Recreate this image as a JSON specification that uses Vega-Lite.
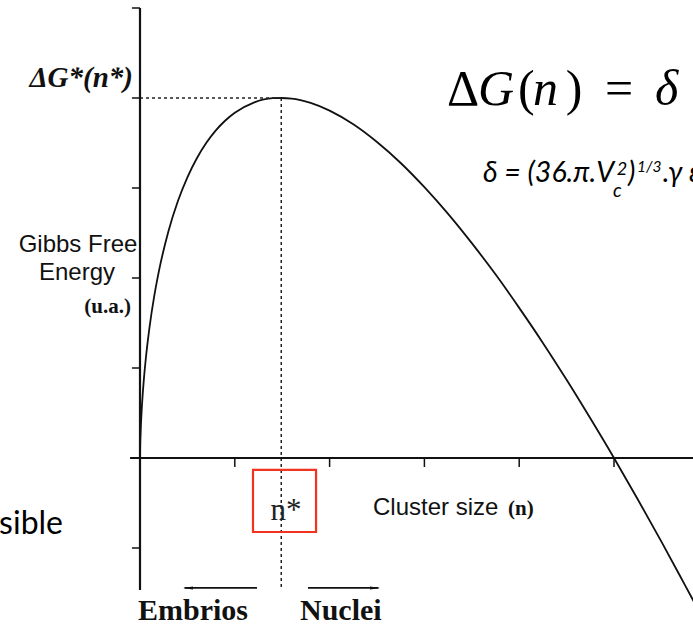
{
  "$schema": "https://vega.github.io/schema/vega-lite/v6.json",
  "width": 553,
  "height": 582,
  "autosize": "none",
  "padding": {"left": 140, "top": 8, "right": 0, "bottom": 46},
  "background": "white",
  "config": {"view": {"stroke": null}, "axis": {"disable": true}},
  "data": {
    "values": [
      {"n": 0, "g": 0}, {"n": 0.002, "g": 0.136}, {"n": 0.005, "g": 0.243},
      {"n": 0.01, "g": 0.375}, {"n": 0.02, "g": 0.573}, {"n": 0.03, "g": 0.73},
      {"n": 0.04, "g": 0.865}, {"n": 0.06, "g": 1.092}, {"n": 0.08, "g": 1.283},
      {"n": 0.1, "g": 1.45}, {"n": 0.15, "g": 1.798}, {"n": 0.2, "g": 2.079},
      {"n": 0.3, "g": 2.519}, {"n": 0.4, "g": 2.855}, {"n": 0.5, "g": 3.119},
      {"n": 0.6, "g": 3.331}, {"n": 0.7, "g": 3.502}, {"n": 0.8, "g": 3.64},
      {"n": 0.9, "g": 3.75}, {"n": 1.0, "g": 3.836}, {"n": 1.2, "g": 3.949},
      {"n": 1.4, "g": 3.998}, {"n": 1.49, "g": 4.0}, {"n": 1.6, "g": 3.994},
      {"n": 1.8, "g": 3.946}, {"n": 2.0, "g": 3.86}, {"n": 2.25, "g": 3.708},
      {"n": 2.5, "g": 3.511}, {"n": 2.75, "g": 3.278}, {"n": 3.0, "g": 3.009},
      {"n": 3.25, "g": 2.712}, {"n": 3.5, "g": 2.387}, {"n": 3.75, "g": 2.041},
      {"n": 4.0, "g": 1.668}, {"n": 4.25, "g": 1.279}, {"n": 4.5, "g": 0.869},
      {"n": 4.75, "g": 0.441}, {"n": 5.0, "g": 0.0}, {"n": 5.25, "g": -0.458},
      {"n": 5.5, "g": -0.929}, {"n": 5.75, "g": -1.415}, {"n": 5.9, "g": -1.708}
    ]
  },
  "layer": [
    {
      "mark": {"type": "line", "color": "#111111", "strokeWidth": 1.8, "interpolate": "monotone"},
      "encoding": {
        "x": {"field": "n", "type": "quantitative", "scale": {"domain": [0, 5.8333], "nice": false, "zero": false}, "axis": null},
        "y": {"field": "g", "type": "quantitative", "scale": {"domain": [-1.4667, 5], "nice": false, "zero": false}, "axis": null}
      }
    },
    {
      "data": {"values": [{}]},
      "mark": {"type": "rule", "color": "#222222", "strokeWidth": 1.5, "strokeDash": [3, 3]},
      "encoding": {"x": {"datum": 0}, "x2": {"datum": 1.49}, "y": {"datum": 4}}
    },
    {
      "data": {"values": [{}]},
      "mark": {"type": "rule", "color": "#222222", "strokeWidth": 1.5, "strokeDash": [3, 3]},
      "encoding": {"x": {"datum": 1.49}, "y": {"datum": 4}, "y2": {"datum": -1.4667}}
    },
    {
      "data": {"values": [{}]},
      "mark": {"type": "rule", "color": "#111111", "strokeWidth": 2.2},
      "encoding": {"x": {"datum": 0}, "y": {"datum": -1.4667}, "y2": {"datum": 5}}
    },
    {
      "data": {"values": [{"v": -1}, {"v": 0}, {"v": 1}, {"v": 2}, {"v": 3}, {"v": 4}, {"v": 5}]},
      "mark": {"type": "rule", "color": "#111111", "strokeWidth": 1.5},
      "encoding": {"x": {"datum": -0.085}, "x2": {"datum": 0}, "y": {"field": "v", "type": "quantitative"}}
    },
    {
      "data": {"values": [{}]},
      "mark": {"type": "rule", "color": "#111111", "strokeWidth": 2},
      "encoding": {"x": {"datum": -0.105}, "x2": {"datum": 6.2}, "y": {"datum": 0}}
    },
    {
      "data": {"values": [{"t": 1}, {"t": 2}, {"t": 3}, {"t": 4}, {"t": 5}]},
      "mark": {"type": "rule", "color": "#111111", "strokeWidth": 1.5},
      "encoding": {"x": {"field": "t", "type": "quantitative"}, "y": {"datum": 0}, "y2": {"datum": -0.1}}
    },
    {
      "data": {"values": [{}]},
      "mark": {"type": "rect", "filled": false, "stroke": "#f0341e", "strokeWidth": 2.2},
      "encoding": {"x": {"datum": 1.192}, "x2": {"datum": 1.857}, "y": {"datum": -0.133}, "y2": {"datum": -0.822}}
    },
    {
      "data": {"values": [{}]},
      "mark": {"type": "rule", "color": "#111111", "strokeWidth": 1.8},
      "encoding": {"x": {"datum": 0.47}, "x2": {"datum": 1.234}, "y": {"datum": -1.444}}
    },
    {
      "data": {"values": [{}]},
      "mark": {"type": "point", "filled": true, "color": "#111111", "opacity": 1, "size": 100, "shape": "M-1,0L1,-0.3L1,0.3Z"},
      "encoding": {"x": {"datum": 0.506}, "y": {"datum": -1.444}}
    },
    {
      "data": {"values": [{}]},
      "mark": {"type": "rule", "color": "#111111", "strokeWidth": 1.8},
      "encoding": {"x": {"datum": 1.772}, "x2": {"datum": 2.515}, "y": {"datum": -1.444}}
    },
    {
      "data": {"values": [{}]},
      "mark": {"type": "point", "filled": true, "color": "#111111", "opacity": 1, "size": 100, "shape": "M1,0L-1,-0.3L-1,0.3Z"},
      "encoding": {"x": {"datum": 2.479}, "y": {"datum": -1.444}}
    },
    {
      "data": {"values": [{}]},
      "mark": {"type": "text", "text": "ΔG*(n*)", "font": "Liberation Serif", "fontSize": 29, "fontWeight": "bold", "fontStyle": "italic", "align": "right", "baseline": "alphabetic", "color": "#111111"},
      "encoding": {"x": {"datum": -0.074}, "y": {"datum": 4.122}}
    },
    {
      "data": {"values": [{}]},
      "mark": {"type": "text", "text": "Gibbs Free", "font": "Liberation Sans", "fontSize": 24, "align": "center", "baseline": "alphabetic", "color": "#111111"},
      "encoding": {"x": {"datum": -0.654}, "y": {"datum": 2.289}}
    },
    {
      "data": {"values": [{}]},
      "mark": {"type": "text", "text": "Energy", "font": "Liberation Sans", "fontSize": 24, "align": "center", "baseline": "alphabetic", "color": "#111111"},
      "encoding": {"x": {"datum": -0.665}, "y": {"datum": 1.978}}
    },
    {
      "data": {"values": [{}]},
      "mark": {"type": "text", "text": "(u.a.)", "font": "Liberation Serif", "fontSize": 21, "fontWeight": "bold", "align": "right", "baseline": "alphabetic", "color": "#111111"},
      "encoding": {"x": {"datum": -0.095}, "y": {"datum": 1.611}}
    },
    {
      "data": {"values": [{}]},
      "mark": {"type": "text", "text": "Δ", "font": "Liberation Serif", "fontSize": 50, "align": "left", "baseline": "alphabetic", "color": "#000000"},
      "encoding": {"x": {"datum": 3.238}, "y": {"datum": 3.922}}
    },
    {
      "data": {"values": [{}]},
      "mark": {"type": "text", "text": "G", "font": "Liberation Serif", "fontSize": 50, "fontStyle": "italic", "align": "left", "baseline": "alphabetic", "color": "#000000"},
      "encoding": {"x": {"datum": 3.565}, "y": {"datum": 3.922}}
    },
    {
      "data": {"values": [{}]},
      "mark": {"type": "text", "text": "(", "font": "Liberation Serif", "fontSize": 50, "align": "left", "baseline": "alphabetic", "color": "#000000"},
      "encoding": {"x": {"datum": 3.987}, "y": {"datum": 3.922}}
    },
    {
      "data": {"values": [{}]},
      "mark": {"type": "text", "text": "n", "font": "Liberation Serif", "fontSize": 50, "fontStyle": "italic", "align": "left", "baseline": "alphabetic", "color": "#000000"},
      "encoding": {"x": {"datum": 4.146}, "y": {"datum": 3.922}}
    },
    {
      "data": {"values": [{}]},
      "mark": {"type": "text", "text": ")", "font": "Liberation Serif", "fontSize": 50, "align": "left", "baseline": "alphabetic", "color": "#000000"},
      "encoding": {"x": {"datum": 4.49}, "y": {"datum": 3.922}}
    },
    {
      "data": {"values": [{}]},
      "mark": {"type": "text", "text": "=", "font": "Liberation Serif", "fontSize": 50, "align": "left", "baseline": "alphabetic", "color": "#000000"},
      "encoding": {"x": {"datum": 4.905}, "y": {"datum": 3.922}}
    },
    {
      "data": {"values": [{}]},
      "mark": {"type": "text", "text": "δ", "font": "Liberation Serif", "fontSize": 50, "fontStyle": "italic", "align": "left", "baseline": "alphabetic", "color": "#000000"},
      "encoding": {"x": {"datum": 5.432}, "y": {"datum": 3.922}}
    },
    {
      "data": {"values": [{}]},
      "mark": {"type": "text", "text": "δ = (36.π.V", "font": "Lato", "fontSize": 28.5, "fontStyle": "italic", "align": "left", "baseline": "alphabetic", "color": "#000000"},
      "encoding": {"x": {"datum": 3.618}, "y": {"datum": 3.067}}
    },
    {
      "data": {"values": [{}]},
      "mark": {"type": "text", "text": "c", "font": "Lato", "fontSize": 19, "fontStyle": "italic", "align": "left", "baseline": "alphabetic", "color": "#000000"},
      "encoding": {"x": {"datum": 4.99}, "y": {"datum": 2.9}}
    },
    {
      "data": {"values": [{}]},
      "mark": {"type": "text", "text": "2", "font": "Lato", "fontSize": 18, "fontStyle": "italic", "align": "left", "baseline": "alphabetic", "color": "#000000"},
      "encoding": {"x": {"datum": 5.03}, "y": {"datum": 3.145}}
    },
    {
      "data": {"values": [{}]},
      "mark": {"type": "text", "text": ")", "font": "Lato", "fontSize": 28.5, "fontStyle": "italic", "align": "left", "baseline": "alphabetic", "color": "#000000"},
      "encoding": {"x": {"datum": 5.148}, "y": {"datum": 3.067}}
    },
    {
      "data": {"values": [{}]},
      "mark": {"type": "text", "text": "1/3", "font": "Lato", "fontSize": 15.5, "fontStyle": "italic", "align": "left", "baseline": "alphabetic", "color": "#000000"},
      "encoding": {"x": {"datum": 5.243}, "y": {"datum": 3.178}}
    },
    {
      "data": {"values": [{}]},
      "mark": {"type": "text", "text": ".γ ε", "font": "Lato", "fontSize": 28.5, "fontStyle": "italic", "align": "left", "baseline": "alphabetic", "color": "#000000"},
      "encoding": {"x": {"datum": 5.515}, "y": {"datum": 3.067}}
    },
    {
      "data": {"values": [{}]},
      "mark": {"type": "text", "text": "n*", "font": "Liberation Serif", "fontSize": 31, "align": "center", "baseline": "alphabetic", "color": "#222222"},
      "encoding": {"x": {"datum": 1.54}, "y": {"datum": -0.689}}
    },
    {
      "data": {"values": [{}]},
      "mark": {"type": "text", "text": "Cluster size", "font": "Liberation Sans", "fontSize": 24, "align": "left", "baseline": "alphabetic", "color": "#111111"},
      "encoding": {"x": {"datum": 2.458}, "y": {"datum": -0.633}}
    },
    {
      "data": {"values": [{}]},
      "mark": {"type": "text", "text": "(n)", "font": "Liberation Serif", "fontSize": 21, "fontWeight": "bold", "align": "left", "baseline": "alphabetic", "color": "#111111"},
      "encoding": {"x": {"datum": 3.882}, "y": {"datum": -0.633}}
    },
    {
      "data": {"values": [{}]},
      "mark": {"type": "text", "text": "Embrios", "font": "Liberation Serif", "fontSize": 30, "fontWeight": "bold", "align": "left", "baseline": "alphabetic", "color": "#111111"},
      "encoding": {"x": {"datum": -0.021}, "y": {"datum": -1.8}}
    },
    {
      "data": {"values": [{}]},
      "mark": {"type": "text", "text": "Nuclei", "font": "Liberation Serif", "fontSize": 30, "fontWeight": "bold", "align": "left", "baseline": "alphabetic", "color": "#111111"},
      "encoding": {"x": {"datum": 1.688}, "y": {"datum": -1.8}}
    },
    {
      "data": {"values": [{}]},
      "mark": {"type": "text", "text": "sible", "font": "Lato", "fontSize": 32, "align": "right", "baseline": "alphabetic", "color": "#000000"},
      "encoding": {"x": {"datum": -0.812}, "y": {"datum": -0.844}}
    }
  ]
}
